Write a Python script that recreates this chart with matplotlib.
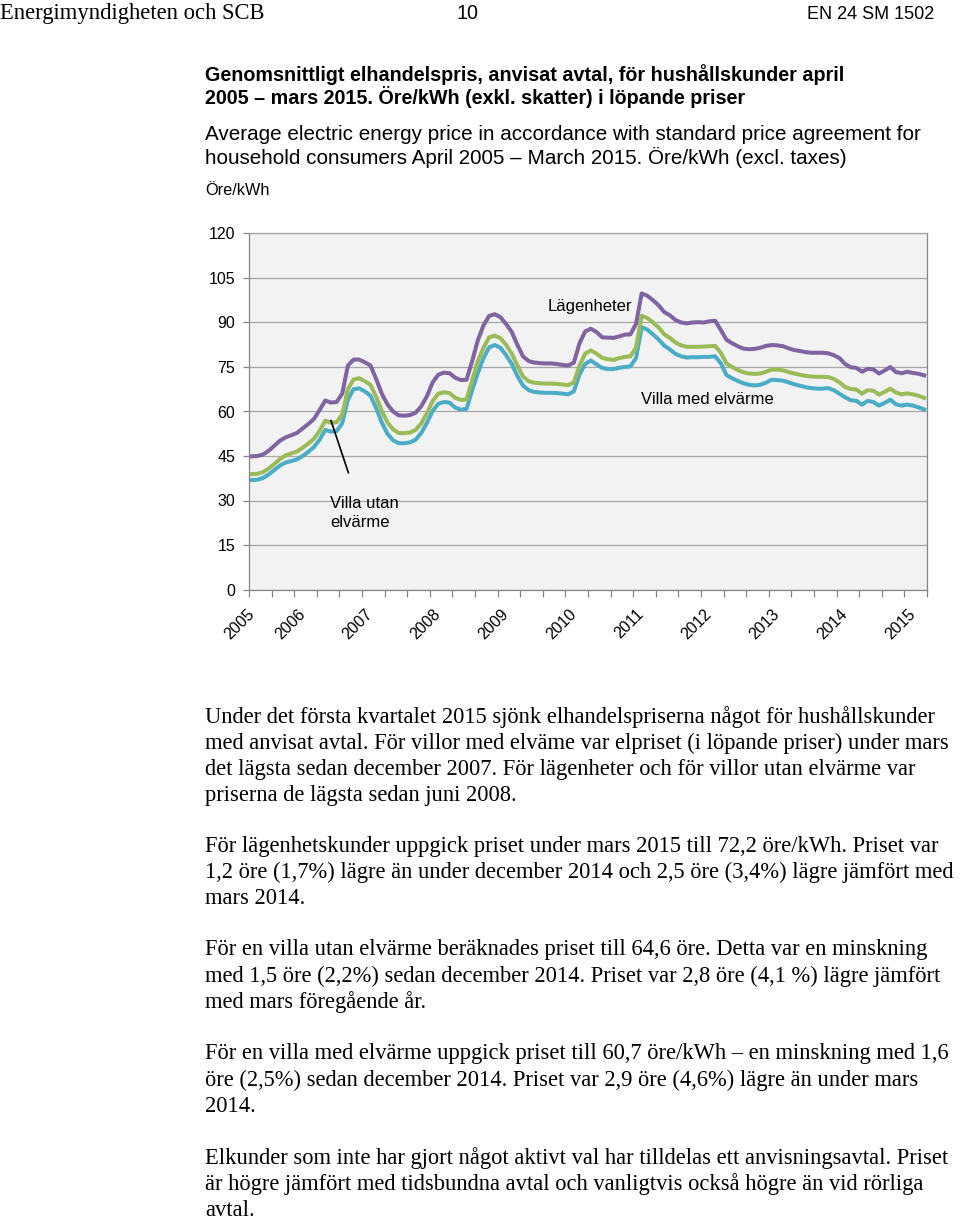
import matplotlib
matplotlib.use("Agg")
import matplotlib.pyplot as plt
import pandas as pd

# ---------------- data ----------------
months = pd.period_range("2005-04", "2015-03", freq="M")

lagenheter = [
    44.9, 45.0, 45.5, 46.8, 48.5, 50.2, 51.3, 52.0, 52.8,
    54.3, 55.8, 57.5, 60.5, 63.7, 63.0, 63.2, 66.0, 75.5, 77.5, 77.5, 76.6,
    75.5, 71.0, 66.0, 62.4, 60.0, 58.7, 58.6, 58.8, 59.6, 61.8, 65.2, 69.8,
    72.4, 73.1, 72.9, 71.4, 70.6, 70.7, 77.0, 84.0, 89.0, 92.2, 92.8, 91.8,
    89.5, 86.8, 82.5, 78.6, 77.0, 76.5, 76.3, 76.2, 76.2, 76.0, 75.7, 75.5,
    76.5, 83.0, 87.0, 87.9, 86.8, 85.0, 84.9, 84.8, 85.3, 85.9, 86.0, 89.5,
    99.8, 99.0, 97.5, 95.8, 93.5, 92.4, 90.8, 90.0, 89.7, 90.0, 90.1, 90.0,
    90.4, 90.6, 87.5, 84.2, 83.0, 82.0, 81.2, 81.0, 81.1, 81.5, 82.1, 82.4,
    82.3, 82.0, 81.3, 80.7, 80.4, 80.0, 79.8, 79.8, 79.8, 79.6, 79.0, 78.0,
    76.0, 74.9, 74.7, 73.4, 74.4, 74.2, 72.8, 73.8, 75.0, 73.3, 72.9, 73.4,
    73.0, 72.7, 72.2,
]

villa_utan_elvarme = [
    38.9, 39.0, 39.6, 40.8, 42.3, 44.0, 45.2, 45.9, 46.5,
    47.8, 49.2, 50.8, 53.5, 56.9, 56.2, 56.4, 59.0, 67.5, 70.8, 71.2, 70.2,
    69.0, 65.0, 60.2, 56.3, 54.0, 52.7, 52.7, 52.9, 53.8, 56.0, 59.5, 63.5,
    66.0, 66.5, 66.2, 64.6, 63.9, 64.1, 70.5, 77.0, 81.5, 85.0, 85.6, 84.7,
    82.5, 79.5, 75.5, 71.8, 70.2, 69.7, 69.5, 69.4, 69.4, 69.3, 69.1, 68.9,
    69.8, 75.5, 79.5, 80.6, 79.5, 78.1, 77.6, 77.4, 78.0, 78.4, 78.6, 81.5,
    92.3, 91.5, 90.0, 88.3, 86.0, 84.8, 83.2, 82.3, 81.8, 81.8, 81.8, 81.9,
    82.0, 82.1, 79.8, 76.2, 75.0, 74.0, 73.2, 72.8, 72.7, 72.8, 73.4, 74.1,
    74.1, 73.9, 73.3, 72.8, 72.4, 72.0, 71.8, 71.7, 71.7, 71.6, 71.0, 69.8,
    68.3, 67.6, 67.4, 66.0, 67.2, 67.0, 65.7, 66.6, 67.7, 66.4, 65.8, 66.1,
    65.8, 65.3, 64.6,
]

villa_med_elvarme = [
    36.9, 37.0, 37.6, 38.8, 40.3, 41.8, 42.8, 43.3, 43.9,
    45.0, 46.4, 48.0, 50.5, 53.8, 53.2, 53.4, 56.0, 64.0, 67.5, 67.8, 66.8,
    65.3, 61.2, 56.3, 52.5, 50.3, 49.3, 49.3, 49.6, 50.5, 52.8, 56.2, 60.2,
    62.6, 63.2, 63.0, 61.3, 60.6, 60.9, 67.2, 73.0, 78.0, 81.6, 82.4, 81.5,
    79.0, 76.0, 72.0, 68.7, 67.2, 66.6, 66.4, 66.3, 66.3, 66.2, 66.0, 65.8,
    66.8, 72.5, 76.0, 77.2, 75.9, 74.7, 74.3, 74.3, 74.7, 75.0, 75.2, 78.0,
    88.4, 87.6, 86.0, 84.3, 82.2, 80.9, 79.4, 78.6, 78.2, 78.3, 78.3, 78.4,
    78.4, 78.6, 76.3, 72.3, 71.2, 70.3, 69.5, 69.0, 68.8, 69.0, 69.7, 70.7,
    70.6, 70.4, 69.8, 69.2, 68.7, 68.2, 67.9, 67.7, 67.7, 67.9, 67.2, 66.0,
    64.8, 63.8, 63.6, 62.3, 63.6, 63.2, 62.0, 62.9, 64.0, 62.4, 62.0, 62.3,
    62.0, 61.4, 60.7,
]

y_ticks = [0, 15, 30, 45, 60, 75, 90, 105, 120]

header_left = "Energimyndigheten och SCB"
header_mid = "10"
header_right = "EN 24 SM 1502"
title_lines = ["Genomsnittligt elhandelspris, anvisat avtal, för hushållskunder april",
               "2005 – mars 2015. Öre/kWh (exkl. skatter) i löpande priser"]
subtitle_lines = ["Average electric energy price in accordance with standard price agreement for",
                  "household consumers April 2005 – March 2015. Öre/kWh (excl. taxes)"]
unit_label = "Öre/kWh"
body_blocks = [
    ["Under det första kvartalet 2015 sjönk elhandelspriserna något för hushållskunder",
     "med anvisat avtal. För villor med elväme var elpriset (i löpande priser) under mars",
     "det lägsta sedan december 2007. För lägenheter och för villor utan elvärme var",
     "priserna de lägsta sedan juni 2008."],
    ["För lägenhetskunder uppgick priset under mars 2015 till 72,2 öre/kWh. Priset var",
     "1,2 öre (1,7%) lägre än under december 2014 och 2,5 öre (3,4%) lägre jämfört med",
     "mars 2014."],
    ["För en villa utan elvärme beräknades priset till 64,6 öre. Detta var en minskning",
     "med 1,5 öre (2,2%) sedan december 2014. Priset var 2,8 öre (4,1 %) lägre jämfört",
     "med mars föregående år."],
    ["För en villa med elvärme uppgick priset till 60,7 öre/kWh – en minskning med 1,6",
     "öre (2,5%) sedan december 2014. Priset var 2,9 öre (4,6%) lägre än under mars",
     "2014."],
    ["Elkunder som inte har gjort något aktivt val har tilldelas ett anvisningsavtal. Priset",
     "är högre jämfört med tidsbundna avtal och vanligtvis också högre än vid rörliga",
     "avtal."],
]

# ---------------- figure ----------------
W, H = 960, 1221
fig = plt.figure(figsize=(W / 100, H / 100), dpi=100)
fig.patch.set_facecolor("white")
renderer = fig.canvas.get_renderer()

SANS = ["Liberation Sans", "DejaVu Sans"]
SERIF = ["Liberation Serif", "DejaVu Serif"]


def fit_size(s, target_w, **kw):
    t = fig.text(0, 0, s, fontsize=20, **kw)
    w = t.get_window_extent(renderer).width
    t.remove()
    return 20 * target_w / w


def put(x_px, y_px, s, size, **kw):
    return fig.text(x_px / W, 1 - y_px / H, s, fontsize=size, va="baseline", **kw)


# header
sz = fit_size(header_left, 265, family=SERIF)
put(0, 19, header_left, sz, family=SERIF, color="black")
sz2 = fit_size(header_right, 127, family=SANS)
put(934, 19, header_right, sz2, family=SANS, ha="right")
put(468, 19, header_mid, sz2 * 1.1, family=SANS, ha="center")

# title
tsz = fit_size(title_lines[0], 635, family=SANS, weight="bold")
for k, line in enumerate(title_lines):
    put(205, 81 + 23 * k, line, tsz, family=SANS, weight="bold")

ssz = fit_size(subtitle_lines[0], 711, family=SANS)
for k, line in enumerate(subtitle_lines):
    put(205, 140 + 24 * k, line, ssz, family=SANS)

usz = fit_size(unit_label, 64, family=SANS)
put(205, 195, unit_label, usz, family=SANS)

# body text
bsz = fit_size(body_blocks[1][1], 751, family=SERIF)
block_starts = [722.7, 851.7, 955.5, 1059.5, 1164.0]
for start, block in zip(block_starts, body_blocks):
    for k, line in enumerate(block):
        put(205, start + 26.2 * k, line, bsz, family=SERIF)

# ---------------- chart ----------------
x0, x1 = 249, 927
yb, yt = 589.5, 233.5
ax = fig.add_axes([x0 / W, 1 - yb / H, (x1 - x0) / W, (yb - yt) / H])
ax.set_facecolor("#F2F2F2")

xs = list(range(len(months)))
ax.set_xlim(-0.5, len(months) - 0.5)
ax.set_ylim(0, 120)

ax.set_yticks(y_ticks)
ax.yaxis.grid(True, color="#A6A6A6", lw=0.9)
ax.set_axisbelow(True)
ax.tick_params(axis="y", length=4, width=0.9, color="#868686", pad=6,
               labelsize=11.5, labelcolor="black")
for lab in ax.get_yticklabels():
    lab.set_family(SANS)

# x axis: minor ticks every 4 months, labels at first month & each January
ax.set_xticks([i - 0.5 for i in range(0, len(months) + 1, 4)], minor=True)
lab_idx = [i for i, m in enumerate(months) if i == 0 or m.month == 1]
ax.set_xticks(lab_idx)
ax.set_xticklabels([str(months[i].year) for i in lab_idx])
ax.tick_params(axis="x", which="major", length=0, pad=16, labelsize=11.5)
ax.tick_params(axis="x", which="minor", length=5, width=0.9, color="#868686",
               direction="out")
for lab in ax.get_xticklabels():
    lab.set_rotation(45)
    lab.set_ha("right")
    lab.set_va("center")
    lab.set_rotation_mode("anchor")
    lab.set_family(SANS)

for s in ax.spines.values():
    s.set_color("#868686")
    s.set_linewidth(0.9)
ax.spines["top"].set_color("#A6A6A6")

lw = 2.9
ax.plot(xs, villa_med_elvarme, color="#4BACC6", lw=lw, solid_joinstyle="round")
ax.plot(xs, villa_utan_elvarme, color="#9BBB59", lw=lw, solid_joinstyle="round")
ax.plot(xs, lagenheter, color="#8064A2", lw=lw, solid_joinstyle="round")

# annotations
asz = 12
ax.text(59.85, 95.4, "Lägenheter", ha="center", va="center", fontsize=asz,
        family=SANS)
ax.text(80.6, 64.0, "Villa med elvärme", ha="center", va="center", fontsize=asz,
        family=SANS)
ax.text(13.84, 27.4, "Villa utan", ha="left", va="baseline", fontsize=asz,
        family=SANS)
ax.text(13.84, 21.2, "elvärme", ha="left", va="baseline", fontsize=asz,
        family=SANS)
ax.annotate("", xy=(14, villa_utan_elvarme[14] + 0.8), xytext=(17.1, 39.3),
            arrowprops=dict(arrowstyle="-", color="black", lw=1.2,
                            shrinkA=0, shrinkB=0))

fig.savefig("out.png", dpi=100, facecolor="white")
